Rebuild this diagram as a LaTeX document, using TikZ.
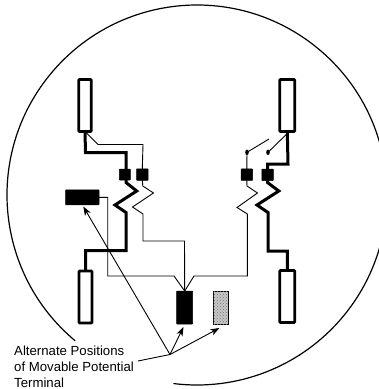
\documentclass[tikz,border=0pt]{standalone}
\usepackage{fontspec}
\setmainfont{Liberation Sans}
\usetikzlibrary{arrows.meta,shapes.geometric,patterns}
\tikzset{
  blade/.style={draw,line width=2.8pt,rounded corners=0.8pt,fill=white,inner sep=0pt,outer sep=0pt,minimum width=#1},
  blade/.default=12.5pt,
  term/.style={fill=black,draw=black,line width=0.5pt,rounded corners=0.5pt,inner sep=0pt,outer sep=0pt},
  coil/.style={line width=3pt,line join=miter},
  wire/.style={line width=0.9pt,line join=miter},
  rim/.style={line width=1.2pt,line cap=round},
  pointer/.style={line width=0.9pt,-{Stealth[length=9pt,width=6.5pt,inset=2.5pt]}},
  contact/.style={fill=black,ellipse,inner sep=0pt,outer sep=0pt,minimum width=3.6pt,minimum height=5.5pt}
}
\begin{document}
\begin{tikzpicture}[x=1pt,y=-1pt]
\useasboundingbox (0,0) rectangle (379,389);
\fill[white] (0,0) rectangle (379,389);
% meter rim
\draw[rim] (197,195) ++(130:190) arc[start angle=130,end angle=457,radius=190];
% blades
\node[blade,minimum height=52pt] (lt) at (85,105.5) {};
\node[blade,minimum height=52pt,minimum width=13pt] (lb) at (85.5,297) {};
\node[blade,minimum height=52pt,minimum width=15pt] (rt) at (287.3,105.5) {};
\node[blade,minimum height=52pt,minimum width=15pt] (rb) at (287.3,296.5) {};
% potential terminals
\node[term,minimum width=11pt,minimum height=11pt] (t1) at (124.8,174.5) {};
\node[term,minimum width=11.5pt,minimum height=11.5pt] (t2) at (142.3,174.5) {};
\node[term,minimum width=11.5pt,minimum height=11.5pt] (t3) at (246.8,174.7) {};
\node[term,minimum width=11.5pt,minimum height=11.5pt] (t4) at (267.5,174.8) {};
\node[term,minimum width=33.5pt,minimum height=15pt] (alt) at (82.3,197.3) {};
\node[term,minimum width=16pt,minimum height=33pt] (mid) at (184.7,307.5) {};
\node[draw=black,line width=0.7pt,fill=black!22,inner sep=0pt,outer sep=0pt,minimum width=15pt,minimum height=33pt,postaction={pattern=crosshatch dots,pattern color=black!55}] (shade) at (220.7,308) {};
% contacts
\node[contact] (c1) at (247,152.3) {};
\node[contact] (c2) at (268,152.3) {};
\coordinate (arm1) at (269,139);
\coordinate (arm2) at (287.3,133.5);
% current coils
\draw[coil] (lt.south) -- (85.5,152.7) -- (126,152.7) -- (126,169);
\draw[coil] (126,180) -- (126,182.5) -- (136.7,191) -- (115,205) -- (126,212.5) -- (126,250.5) -- (85.5,250.5) -- (lb.north);
\draw[coil] (rt.south) -- (288,164) -- (267.5,164) -- (t4.north);
\draw[coil] (t4.south) -- (267.5,182.5) -- (278.8,191) -- (257,205) -- (268,212.5) -- (268,251) -- (287.3,251) -- (rb.north);
% potential coils
\draw[wire] (lt.south) -- (98,144.5) -- (143,144.5) -- (t2.north);
\draw[wire] (t2.south) -- (142.8,186) -- (153.5,193) -- (132.5,207) -- (143,214) -- (143,241) -- (184.5,241) -- (mid.north);
\draw[wire] (alt.east) -- (107.7,197.3) -- (107.7,276) -- (174,276) -- (mid.north);
\draw[wire] (mid.north) -- (194,276) -- (247.3,276) -- (247.3,214) -- (237,207.5) -- (257.5,193) -- (247,186) -- (t3.south);
\draw[wire] (t3.north) -- (c1.center) -- (arm1);
\draw[wire] (c2.center) -- (arm2);
% label
\node[anchor=south west,align=left,inner sep=0pt,font=\fontsize{13.2}{15.6}\selectfont] (lab) at (14,387.5) {Alternate Positions\\of Movable Potential\\Terminal};
\coordinate (hub) at (170,354.5);
\coordinate (lead) at (138,361);
\coordinate (tipa) at (83.3,206.5);
\coordinate (tipb) at (183.5,327);
\coordinate (tipc) at (219.5,328);
\draw[wire] (lead) -- (hub);
\draw[pointer] (hub) -- (tipa);
\draw[pointer] (hub) -- (tipb);
\draw[pointer] (hub) -- (tipc);
\end{tikzpicture}
\end{document}
